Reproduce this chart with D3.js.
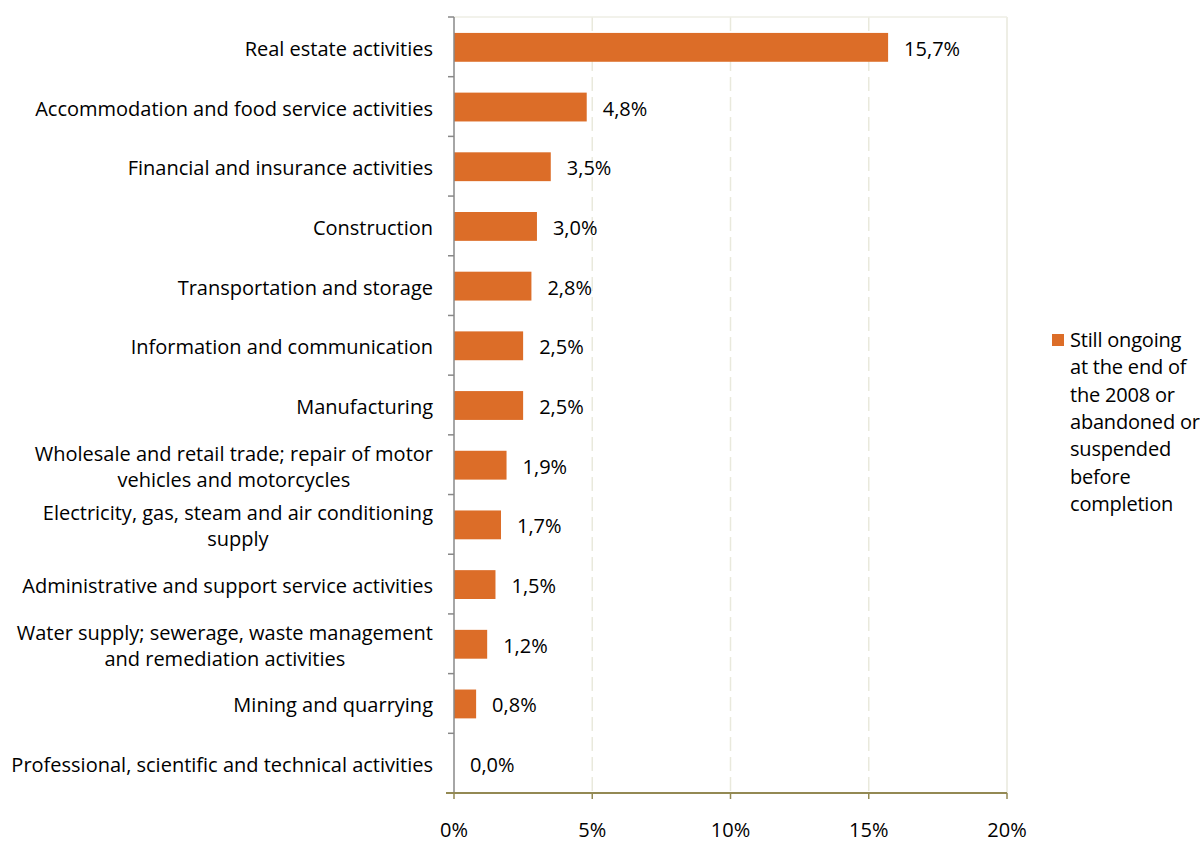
<!DOCTYPE html>
<html><head><meta charset="utf-8">
<script src="https://cdn.jsdelivr.net/npm/d3@7"></script>
<style>body{margin:0;background:#fff;} text{font-family:"Open Sans", sans-serif;fill:#000;}</style>
</head><body>
<svg id="c" width="1200" height="842"></svg>
<script>
const categories = [
  ["Real estate activities"],
  ["Accommodation and food service activities"],
  ["Financial and insurance activities"],
  ["Construction"],
  ["Transportation and storage"],
  ["Information and communication"],
  ["Manufacturing"],
  ["Wholesale and retail trade; repair of motor", "vehicles and motorcycles"],
  ["Electricity, gas, steam and air conditioning", "supply"],
  ["Administrative and support service activities"],
  ["Water supply; sewerage, waste management", "and remediation activities"],
  ["Mining and quarrying"],
  ["Professional, scientific and technical activities"]
];
const values = [15.7, 4.8, 3.5, 3.0, 2.8, 2.5, 2.5, 1.9, 1.7, 1.5, 1.2, 0.8, 0.0];
const xTicks = [0, 5, 10, 15, 20];
const legendLines = ["Still ongoing", "at the end of", "the 2008 or", "abandoned or", "suspended", "before", "completion"];

const svg = d3.select("#c");
const m = {left: 454, top: 17, right: 1007, bottom: 793};
const x = d3.scaleLinear().domain([0, 20]).range([m.left, m.right]);
const y = d3.scaleBand().domain(d3.range(categories.length)).range([m.top, m.bottom]).paddingInner(0.5).paddingOuter(0.25);
const fs = 20;
const fmt = v => v.toFixed(1).replace(".", ",") + "%";

// grid
svg.append("g").selectAll("line").data(xTicks.slice(1)).join("line")
  .attr("x1", d => x(d)).attr("x2", d => x(d)).attr("y1", m.top).attr("y2", m.bottom)
  .attr("stroke", "#e9e9dc").attr("stroke-width", 1.5).attr("stroke-dasharray", d => d === 20 ? null : "14,6");
svg.append("line").attr("x1", m.left).attr("x2", m.right).attr("y1", m.top).attr("y2", m.top).attr("stroke", "#eeeee4").attr("stroke-width", 1.5);

// bars
svg.append("g").selectAll("rect").data(values).join("rect")
  .attr("x", x(0)).attr("y", (d, i) => y(i) + 1).attr("width", d => x(d) - x(0)).attr("height", y.bandwidth() - 1)
  .attr("fill", "#dc6d28");
svg.append("g").selectAll("text").data(values).join("text")
  .attr("x", d => x(d) + 16).attr("y", (d, i) => y(i) + y.bandwidth() / 2 + 2).attr("dy", "0.35em")
  .attr("font-size", fs).text(d => fmt(d));

// left axis
const step = (m.bottom - m.top) / categories.length;
const ya = svg.append("g");
ya.append("line").attr("x1", m.left).attr("x2", m.left).attr("y1", m.top).attr("y2", m.bottom).attr("stroke", "#888").attr("stroke-width", 1.5);
ya.selectAll("line.t").data(d3.range(categories.length + 1)).join("line").attr("class", "t")
  .attr("x1", m.left - 6).attr("x2", m.left).attr("y1", d => m.top + d * step).attr("y2", d => m.top + d * step)
  .attr("stroke", "#888").attr("stroke-width", 1.5);

// category labels
const lab = svg.append("g");
categories.forEach((lines, i) => {
  const cy = y(i) + y.bandwidth() / 2 + 2;
  const lh = 26;
  const g = lab.append("g");
  const ts = lines.map((l, j) => g.append("text").attr("font-size", fs).attr("y", cy + (j - (lines.length - 1) / 2) * lh).attr("dy", "0.35em").text(l));
  const ws = ts.map(t => t.node().getComputedTextLength());
  const maxW = Math.max(...ws);
  const right = 433;
  const center = right - maxW / 2;
  ts.forEach(t => t.attr("x", center).attr("text-anchor", "middle"));
});

// bottom axis
const xa = svg.append("g");
xa.append("line").attr("x1", m.left - 8).attr("x2", m.right).attr("y1", m.bottom).attr("y2", m.bottom).attr("stroke", "#938953").attr("stroke-width", 2);
xa.selectAll("line.t").data(xTicks).join("line").attr("class", "t")
  .attr("x1", d => x(d)).attr("x2", d => x(d)).attr("y1", m.bottom).attr("y2", m.bottom + 6).attr("stroke", "#938953").attr("stroke-width", 1.5);
xa.selectAll("text").data(xTicks).join("text")
  .attr("x", d => x(d)).attr("y", 837).attr("text-anchor", "middle").attr("font-size", fs).text(d => d + "%");

// legend
const lg = svg.append("g");
lg.append("rect").attr("x", 1052).attr("y", 334).attr("width", 12).attr("height", 12).attr("fill", "#dc6d28");
lg.selectAll("text").data(legendLines).join("text").attr("x", 1070).attr("y", (d, i) => 347 + i * 27.3)
  .attr("font-size", fs).attr("letter-spacing", "-0.2px").text(d => d);
</script>
</body></html>
